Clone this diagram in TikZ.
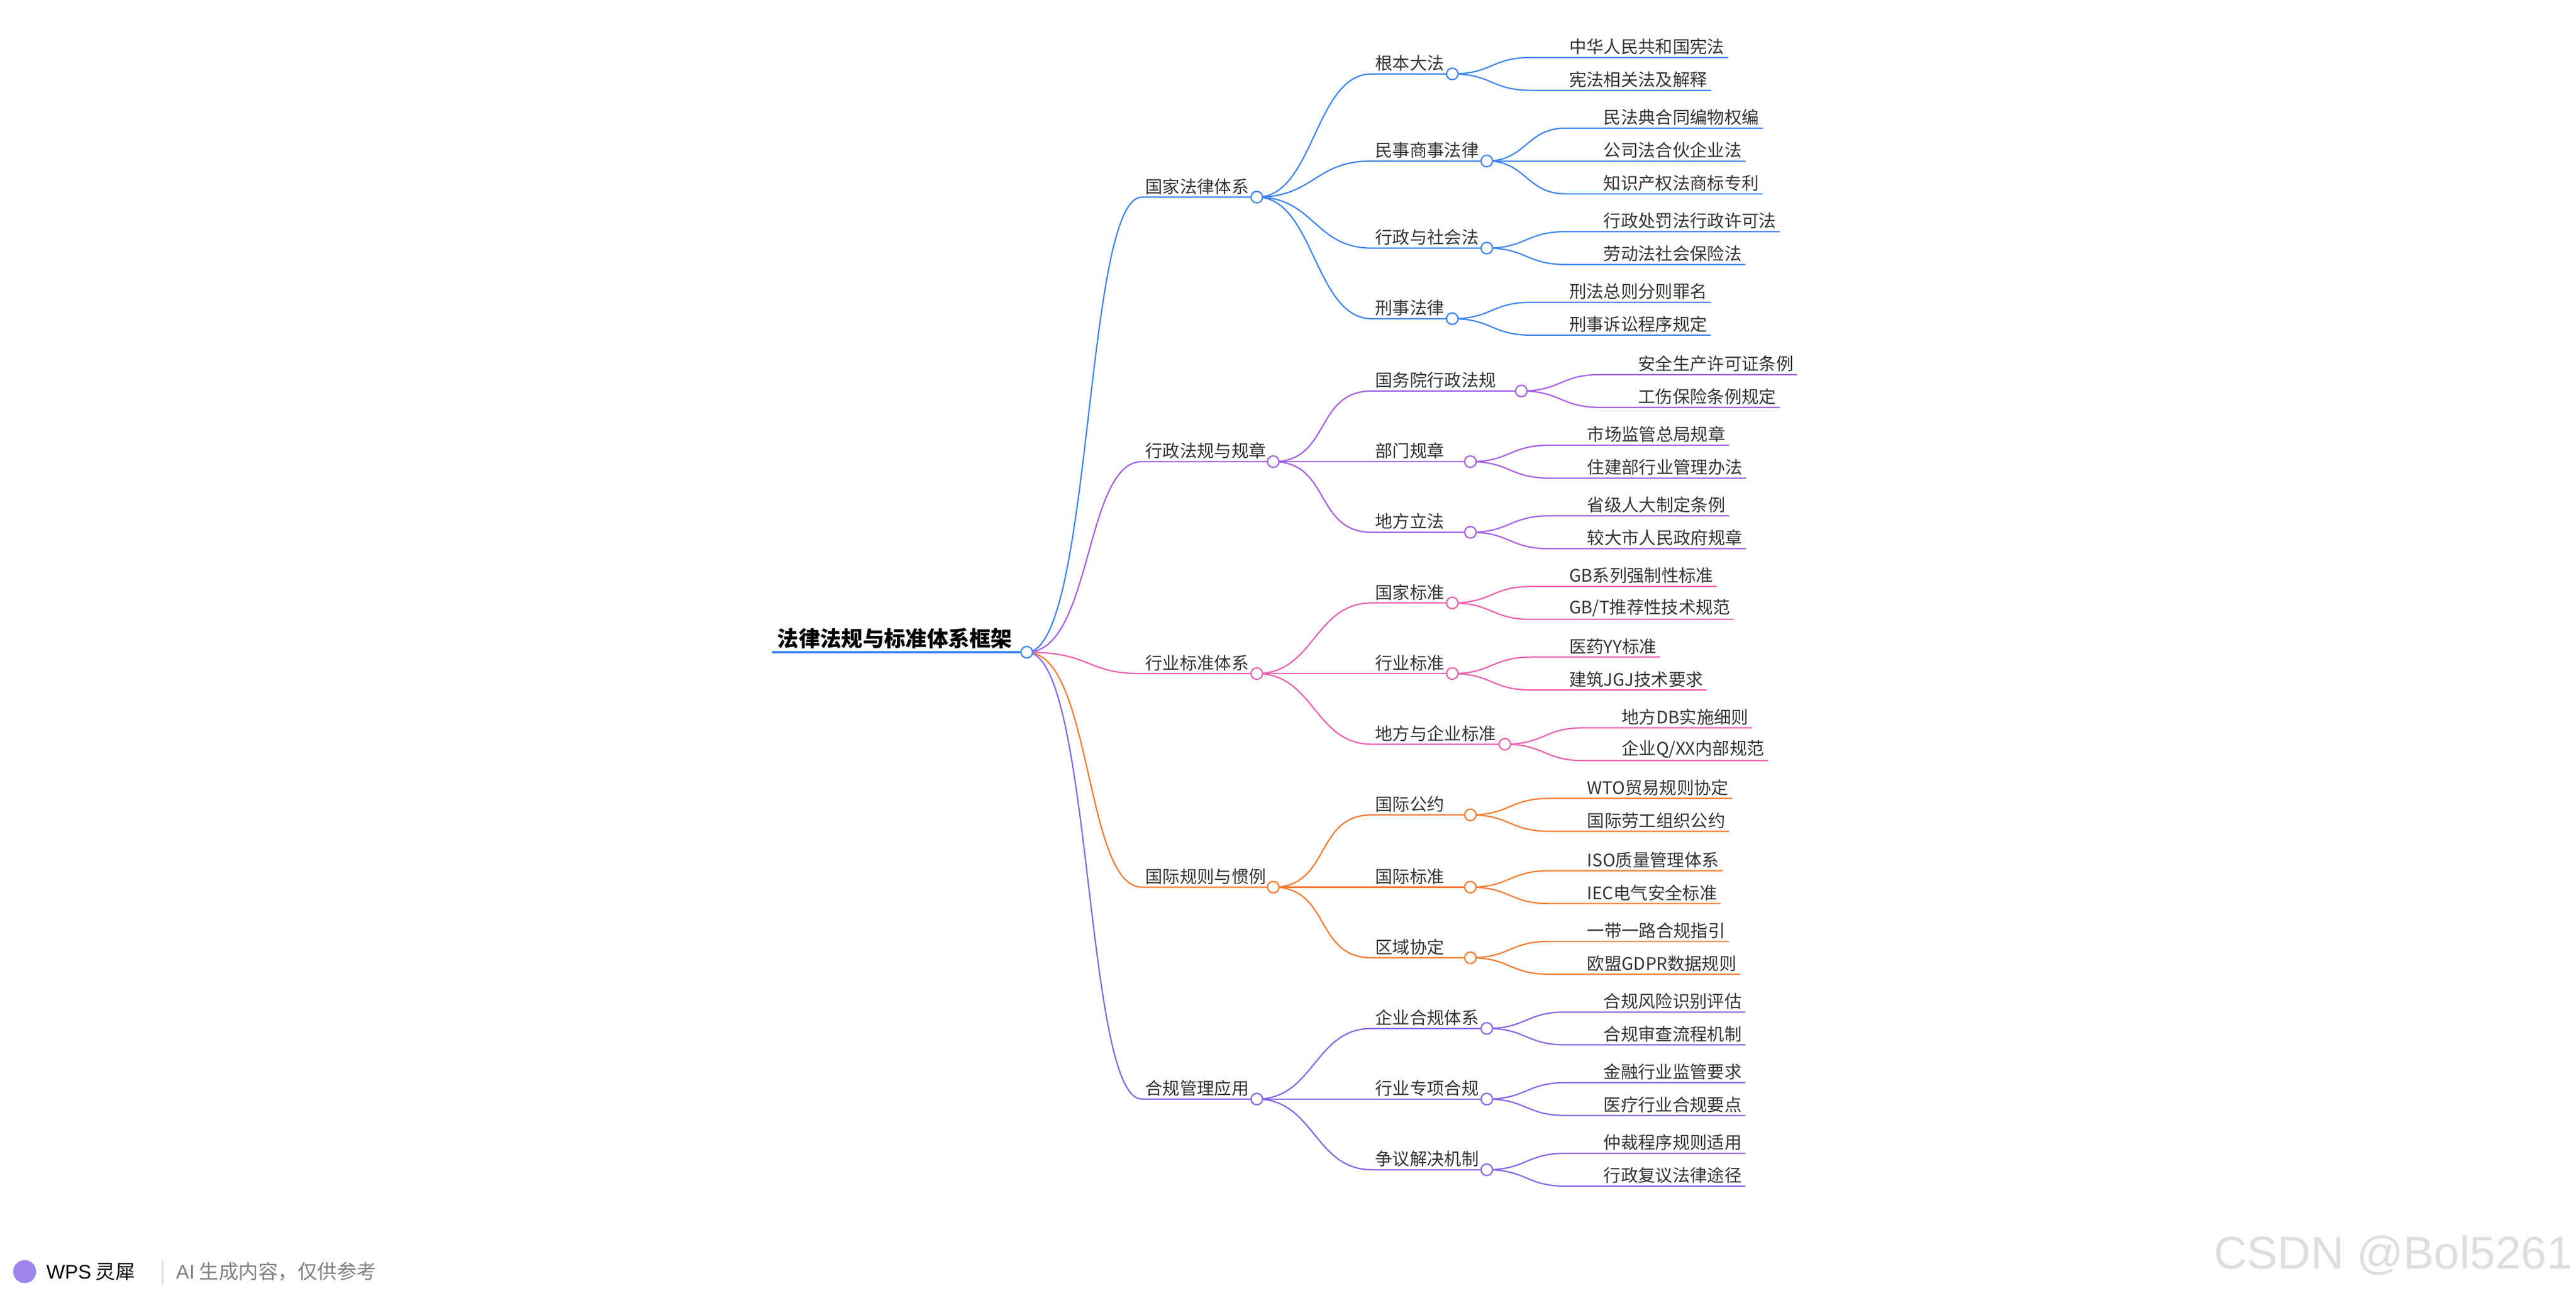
\documentclass[tikz,border=0pt]{standalone}
\usepackage{fontspec}
\setmainfont{Noto Sans CJK SC}
\newfontfamily\latinsans{Liberation Sans}
\definecolor{cblue}{HTML}{3D85F0}
\definecolor{cpurple}{HTML}{A55FE6}
\definecolor{cpink}{HTML}{EE5FAE}
\definecolor{corange}{HTML}{F77A2E}
\definecolor{cviolet}{HTML}{8466E8}
\tikzset{
	lbl/.style={inner xsep=2pt, inner ysep=1.5pt, font=\fontsize{10.5}{12}\selectfont, text=black!80},
	circ/.style={circle, draw, fill=white, line width=0.8pt, minimum size=7pt, inner sep=0pt},
	wire/.style={line width=0.8pt},
}
% level one branch: name, cx, cy, colour, label
\newcommand{\limb}[5]{%
	\coordinate (#1) at (#2,#3);
	\coordinate (#1s) at (695,#3);
	\node[lbl, anchor=south west] (#1t) at (#1s) {#5};
	\draw[wire, #4] (root) .. controls +(40,0) and +(-35,0) .. (#1s) -- (#1);
}
% level two branch: name, parent, cx, cy, colour, label, leaves
\newcommand{\twig}[7]{%
	\coordinate (#1) at (#3,#4);
	\coordinate (#1s) at (835,#4);
	\node[lbl, anchor=south west] (#1t) at (#1s) {#6};
	\draw[wire, #5] (#2) .. controls +(35,0) and +(-35,0) .. (#1s) -- (#1);
	\foreach \dy/\txt [count=\k] in {#7}{
		\node[lbl, anchor=south west] (#1l\k) at (#3+69,#4+\dy) {\txt};
		\coordinate (#1m\k) at (#3+48,#4+\dy);
		\draw[wire, #5] (#1) .. controls +(24,0) and +(-24,0) .. (#1m\k) -- (#1l\k.south east);
	}
	\node[circ, draw=#5] (#1o) at (#1) {};
}
\begin{document}
\begin{tikzpicture}[x=1pt, y=-1pt]
	\useasboundingbox (0,0) rectangle (1568,790);
	\coordinate (root) at (625,397);
	\coordinate (roots) at (470,397);
	\node[anchor=south west, inner xsep=3pt, inner ysep=2pt, font=\fontsize{13}{14}\selectfont\bfseries] (roott) at (roots) {法律法规与标准体系框架};
	\draw[cblue, line width=1.6pt] (roots) -- (root);

	% level one
	\limb{law}{765}{120}{cblue}{国家法律体系}
	\limb{reg}{775}{281}{cpurple}{行政法规与规章}
	\limb{std}{765}{410}{cpink}{行业标准体系}
	\limb{intl}{775}{540}{corange}{国际规则与惯例}
	\limb{comp}{765}{669}{cviolet}{合规管理应用}

	% level two and leaves
	\twig{gb}{law}{884}{45}{cblue}{根本大法}{-10/中华人民共和国宪法,10/宪法相关法及解释}
	\twig{ms}{law}{905}{98}{cblue}{民事商事法律}{-20/民法典合同编物权编,0/公司法合伙企业法,20/知识产权法商标专利}
	\twig{xz}{law}{905}{151}{cblue}{行政与社会法}{-10/行政处罚法行政许可法,10/劳动法社会保险法}
	\twig{xs}{law}{884}{194}{cblue}{刑事法律}{-10/刑法总则分则罪名,10/刑事诉讼程序规定}

	\twig{gwy}{reg}{926}{238}{cpurple}{国务院行政法规}{-10/安全生产许可证条例,10/工伤保险条例规定}
	\twig{bm}{reg}{895}{281}{cpurple}{部门规章}{-10/市场监管总局规章,10/住建部行业管理办法}
	\twig{df}{reg}{895}{324}{cpurple}{地方立法}{-10/省级人大制定条例,10/较大市人民政府规章}

	\twig{gj}{std}{884}{367}{cpink}{国家标准}{-10/GB系列强制性标准,10/{GB/T推荐性技术规范}}
	\twig{hy}{std}{884}{410}{cpink}{行业标准}{-10/医药YY标准,10/建筑JGJ技术要求}
	\twig{dq}{std}{916}{453}{cpink}{地方与企业标准}{-10/地方DB实施细则,10/{企业Q/XX内部规范}}

	\twig{gy}{intl}{895}{496}{corange}{国际公约}{-10/WTO贸易规则协定,10/国际劳工组织公约}
	\twig{gbz}{intl}{895}{540}{corange}{国际标准}{-10/ISO质量管理体系,10/IEC电气安全标准}
	\twig{qy}{intl}{895}{583}{corange}{区域协定}{-10/一带一路合规指引,10/欧盟GDPR数据规则}

	\twig{qh}{comp}{905}{626}{cviolet}{企业合规体系}{-10/合规风险识别评估,10/合规审查流程机制}
	\twig{zx}{comp}{905}{669}{cviolet}{行业专项合规}{-10/金融行业监管要求,10/医疗行业合规要点}
	\twig{zy}{comp}{905}{712}{cviolet}{争议解决机制}{-10/仲裁程序规则适用,10/行政复议法律途径}

	\foreach \n/\c in {law/cblue,reg/cpurple,std/cpink,intl/corange,comp/cviolet}
		\node[circ, draw=\c] (\n o) at (\n) {};
	\node[circ, draw=cblue] (rooto) at (root) {};

	% footer
	\node[circle, fill=cviolet!80, minimum size=14pt, inner sep=0pt] (logo) at (15,774) {};
	\node[anchor=west, inner sep=0pt, font=\fontsize{12}{13}\selectfont] (wps) at (28,774) {{\latinsans WPS} 灵犀};
	\draw[black!12, line width=0.8pt] (99,767) -- (99,782);
	\node[anchor=west, inner sep=0pt, text=black!50, font=\fontsize{12}{13}\selectfont] (ai) at (107,774) {{\latinsans AI} 生成内容，仅供参考};
	\node[anchor=east, inner sep=0pt, text=black!13, font=\latinsans\fontsize{28}{30}\selectfont] (mark) at (1566,764) {CSDN @Bol5261};
\end{tikzpicture}
\end{document}
